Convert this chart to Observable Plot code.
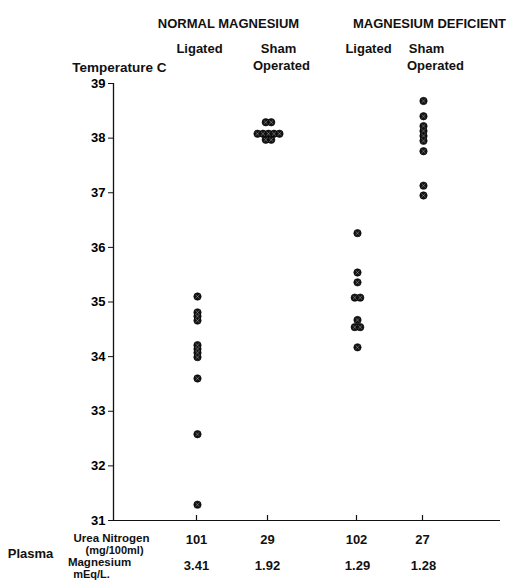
<!DOCTYPE html>
<html><head><meta charset="utf-8">
<script src="https://cdn.jsdelivr.net/npm/d3@7"></script>
<script src="https://cdn.jsdelivr.net/npm/@observablehq/plot@0.6"></script>
<style>body{margin:0;background:#fff} svg{display:block}</style>
</head><body><div id="chart"></div>
<script>
// ---- data ----
const groups = ["Normal Magnesium · Ligated", "Normal Magnesium · Sham Operated", "Magnesium Deficient · Ligated", "Magnesium Deficient · Sham Operated"];
const normalLigated = [35.1, 34.81, 34.74, 34.66, 34.21, 34.14, 34.07, 33.99, 33.6, 32.58, 31.29];
const normalSham = [38.29, 38.29, 38.08, 38.08, 38.08, 38.08, 38.08, 37.97, 37.97];
const deficientLigated = [36.26, 35.54, 35.36, 35.08, 35.08, 34.67, 34.54, 34.54, 34.17];
const deficientSham = [38.68, 38.4, 38.22, 38.13, 38.04, 37.95, 37.76, 37.13, 36.95];
const ureaNitrogen = ["101", "29", "102", "27"];
const plasmaMagnesium = ["3.41", "1.92", "1.29", "1.28"];
const yTicks = [31, 32, 33, 34, 35, 36, 37, 38, 39];

// ---- layout (x scale units = axis pixels from the y axis) ----
const W = 519, H = 583, mL = 113, mR = 19, mT = 83, mB = 63;
const axisLen = W - mL - mR;
const groupX = [83, 154, 243, 309];
const series = [normalLigated, normalSham, deficientLigated, deficientSham];
const points = [];
series.forEach((vals, gi) => {
  const counts = d3.rollup(vals, v => v.length, v => v);
  const seen = new Map();
  vals.forEach(v => {
    const n = counts.get(v), k = seen.get(v) ?? 0;
    seen.set(v, k + 1);
    points.push({group: groups[gi], temp: v, x: groupX[gi] + 1 + (k - (n - 1) / 2) * 5.5});
  });
});

const font = "Liberation Sans, Arial, sans-serif";
const T = (data, opts) => Plot.text(data, {fontSize: 13, fontWeight: "bold", fill: "#111", ...opts});
const label = (x, t, anchor, dy, extra = {}) => T([{x, t}], {x: "x", text: "t", frameAnchor: anchor, dy, ...extra});

const chart = Plot.plot({
  width: W, height: H,
  marginLeft: mL, marginRight: mR, marginTop: mT, marginBottom: mB,
  style: {fontFamily: font, background: "#fff", overflow: "visible"},
  x: {domain: [0, axisLen], axis: null},
  y: {domain: [31, 39], axis: null},
  marks: [
    Plot.ruleX([0], {y1: 31, y2: 39, stroke: "#111", strokeWidth: 1.3}),
    Plot.ruleY([31], {x1: 0, x2: axisLen, stroke: "#111", strokeWidth: 1.2}),
    Plot.tickX(groupX, {x: d => d, insetTop: H - mT - mB - 5, stroke: "#111", strokeWidth: 1.2}),
    Plot.axisY({ticks: yTicks, tickSize: 5, tickPadding: 3, fontSize: 13, fontWeight: "bold", label: null, stroke: "#111"}),
    Plot.dot(points, {x: "x", y: "temp", r: 3.7, fill: "#151515", stroke: "#000", strokeWidth: 0.6}),
    Plot.dot(points, {x: "x", y: "temp", r: 1.9, symbol: "times", stroke: "#fff", strokeWidth: 0.55, strokeOpacity: 0.55}),
    // headers
    label(115, "NORMAL MAGNESIUM", "top", -65),
    label(316, "MAGNESIUM DEFICIENT", "top", -65),
    label(86, "Ligated", "top", -40),
    label(165, "Sham", "top", -40),
    label(255, "Ligated", "top", -40),
    label(313, "Sham", "top", -40),
    label(168, "Operated", "top", -23),
    label(322, "Operated", "top", -23),
    label(53, "Temperature C", "top", -21, {textAnchor: "end", fontSize: 13.5}),
    // bottom table
    T(ureaNitrogen, {x: (d, i) => groupX[i], text: d => d, frameAnchor: "bottom", dy: 23}),
    T(plasmaMagnesium, {x: (d, i) => groupX[i] + (i >= 2 ? 1 : 0), text: d => d, frameAnchor: "bottom", dy: 49}),
    label(-2, "Urea Nitrogen", "bottom", 21, {fontSize: 11.5}),
    label(1, "(mg/100ml)", "bottom", 33, {fontSize: 11}),
    label(-14, "Magnesium", "bottom", 45, {fontSize: 11.5}),
    label(-22, "mEq/L.", "bottom", 57, {fontSize: 11}),
    label(-83, "Plasma", "bottom", 37)
  ]
});
document.getElementById("chart").append(chart);
</script></body></html>
